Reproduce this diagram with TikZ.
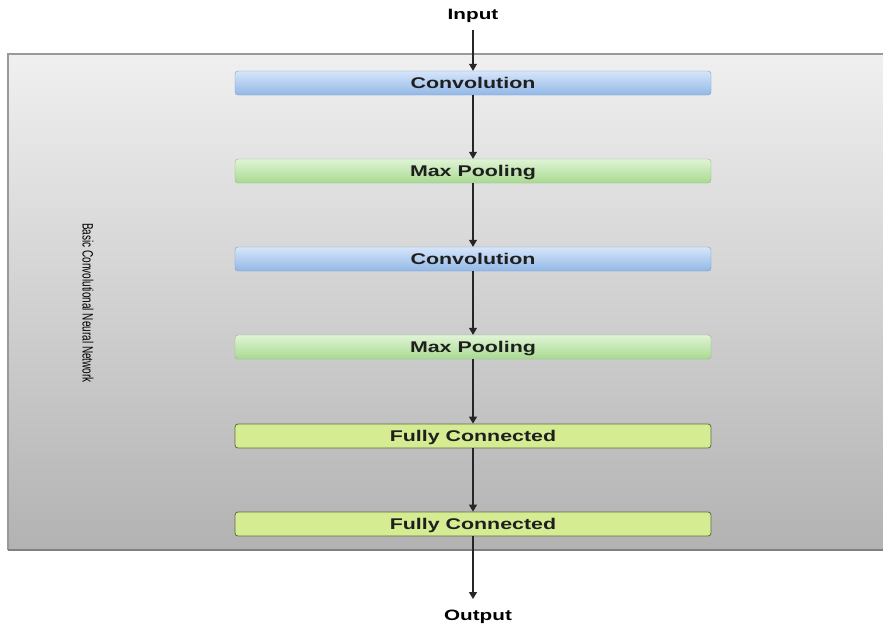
\documentclass[tikz,border=0pt]{standalone}
\usepackage{fontspec}
\setmainfont{Liberation Sans}
\usetikzlibrary{arrows.meta}
\definecolor{convtop}{HTML}{D6E6F9}
\definecolor{convbot}{HTML}{92B7E8}
\definecolor{convline}{HTML}{7A9CC8}
\definecolor{pooltop}{HTML}{E0F4D6}
\definecolor{poolbot}{HTML}{A8DA90}
\definecolor{poolline}{HTML}{8DBB78}
\definecolor{fcfill}{HTML}{D5EC92}
\definecolor{fcline}{HTML}{5E6B45}
\definecolor{wire}{HTML}{262626}
\tikzset{
  layer/.style={rounded corners=3pt, minimum width=476pt, minimum height=24pt,
    inner sep=0pt, text height=11pt, text depth=0pt,
    font=\bfseries\fontsize{15.5}{15.5}\selectfont, text=black!88},
  conv/.style={layer, draw=convline, top color=convtop, bottom color=convbot},
  pool/.style={layer, draw=poolline, top color=pooltop, bottom color=poolbot},
  fc/.style={layer, draw=fcline, line width=0.8pt, fill=fcfill},
  flow/.style={draw=wire, line width=1.1pt, -{Triangle[width=8pt,length=7pt]}},
  io/.style={font=\bfseries\fontsize{15}{15}\selectfont, inner sep=0pt}
}
\newcommand{\lbl}[1]{\scalebox{1.38}[1]{#1}}
\begin{document}
\begin{tikzpicture}[x=1pt,y=-1pt]
\useasboundingbox (0,0) rectangle (883,632);
% grey container with shadowed edges
\begin{scope}
  \clip (0,0) rectangle (883,632);
  \shade[top color=black!6, bottom color=black!30] (8,54) rectangle (890,550);
  \draw[black!40, line width=1.5pt] (8,550) -- (8,54) -- (890,54);
  \draw[black!50, line width=2pt] (8,550) -- (890,550);
\end{scope}
\node[rotate=-90, font=\fontsize{12.5}{12.5}\selectfont, inner sep=0pt] (title) at (88,303)
  {\scalebox{0.8}[1.2]{Basic Convolutional Neural Network}};
% layers
\node[conv] (c1) at (473,83)  {\lbl{Convolution}};
\node[pool] (p1) at (473,171) {\lbl{Max Pooling}};
\node[conv] (c2) at (473,259) {\lbl{Convolution}};
\node[pool] (p2) at (473,347) {\lbl{Max Pooling}};
\node[fc]   (f1) at (473,436) {\lbl{Fully Connected}};
\node[fc]   (f2) at (473,524) {\lbl{Fully Connected}};
% terminals
\node[io] (in)  at (473,16)  {\lbl{Input}};
\node[io] (out) at (478,617) {\lbl{Output}};
\coordinate (inend) at (473,30);
\coordinate (outend) at (473,599);
% connectors
\draw[flow] (inend) -- (c1.north);
\draw[flow] (c1) -- (p1);
\draw[flow] (p1) -- (c2);
\draw[flow] (c2) -- (p2);
\draw[flow] (p2) -- (f1);
\draw[flow] (f1) -- (f2);
\draw[flow] (f2.south) -- (outend);
\end{tikzpicture}
\end{document}
